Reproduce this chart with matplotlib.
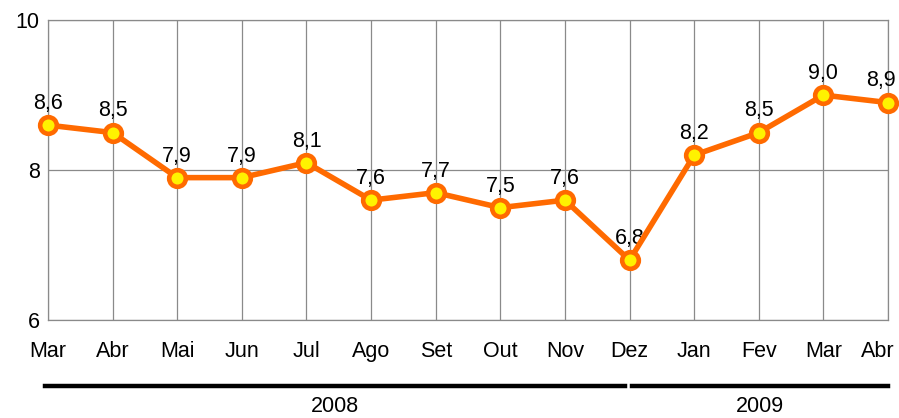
import matplotlib.pyplot as plt
from matplotlib.lines import Line2D
from matplotlib.transforms import ScaledTranslation

plt.rcParams['font.family'] = ['Liberation Sans', 'DejaVu Sans']

months = ['Mar', 'Abr', 'Mai', 'Jun', 'Jul', 'Ago', 'Set', 'Out', 'Nov', 'Dez',
          'Jan', 'Fev', 'Mar', 'Abr']
values = [8.6, 8.5, 7.9, 7.9, 8.1, 7.6, 7.7, 7.5, 7.6, 6.8, 8.2, 8.5, 9.0, 8.9]
years = ['2008', '2009']
year_spans = [(0, 9), (9, 13)]

FS = 15.5
fig = plt.figure(figsize=(8.99, 4.18), dpi=100)
ax = fig.add_axes([0.0534, 0.234, 0.9344, 0.718])

x = list(range(len(months)))
ax.plot(x, values, color='#FF6A00', lw=4, marker='o', markersize=12,
        markerfacecolor='#FFF200', markeredgecolor='#FF6A00', markeredgewidth=3.3,
        zorder=5, clip_on=False)
for xi, v in zip(x, values):
    dx = -5 if xi == len(months) - 1 else 0
    ax.annotate(f'{v:.1f}'.replace('.', ','), (xi, v), xytext=(dx, 8),
                textcoords='offset points', ha='center', va='bottom', fontsize=FS)

ax.set_xlim(0, len(months) - 1)
ax.set_ylim(6, 10)
ax.set_yticks([6, 8, 10])
ax.set_xticks(x)
ax.set_xticklabels(months, fontsize=FS)
ax.tick_params(axis='y', labelsize=FS, length=0, pad=6)
ax.tick_params(axis='x', length=0, pad=15)
ax.grid(True, color='#8a8a8a', lw=0.9)
for s in ax.spines.values():
    s.set_color('#8a8a8a')
    s.set_linewidth(0.9)

# last label nudged left so it stays inside the figure
last = ax.get_xticklabels()[-1]
last.set_transform(last.get_transform() + ScaledTranslation(-10 / 100, 0, fig.dpi_scale_trans))

# year brackets below the axis
inv = fig.transFigure.inverted()
for yr, (a, b) in zip(years, year_spans):
    xa = ax.transData.transform((a, 0))[0]
    xb = ax.transData.transform((b, 0))[0]
    xa = xa - 3 if a == 0 else xa + 2
    xb = xb if b == len(months) - 1 else xb - 5
    fa = inv.transform((xa, 0))[0]
    fb = inv.transform((xb, 0))[0]
    fig.add_artist(Line2D([fa, fb], [0.077, 0.077], color='black', lw=3.2))
    fig.text((fa + fb) / 2, 0.028, yr, ha='center', va='center', fontsize=FS)

fig.savefig('out.png', dpi=100)
